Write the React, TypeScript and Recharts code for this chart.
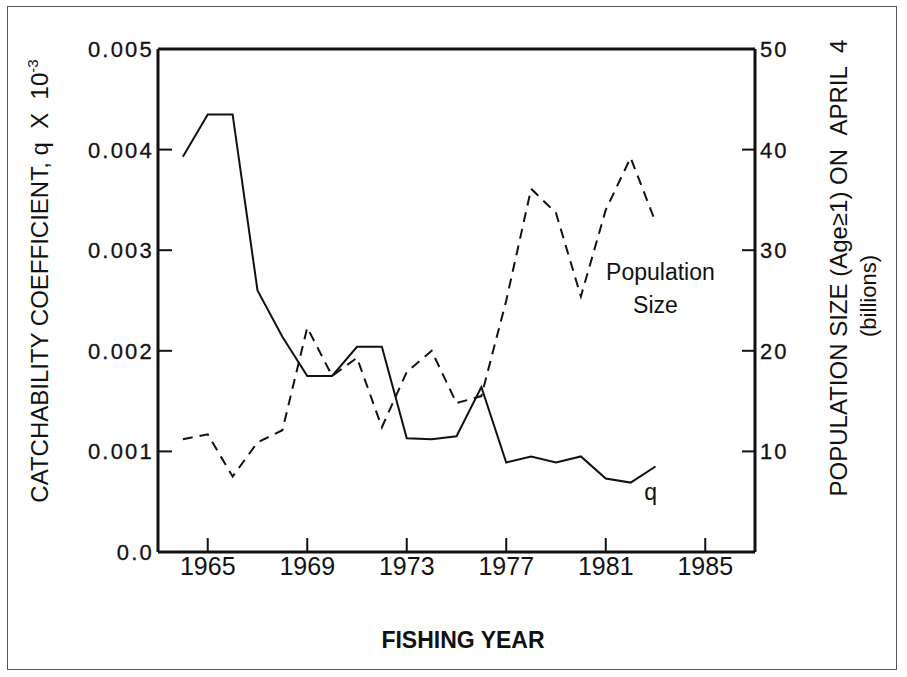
import React from 'react';
import { LineChart, Line, XAxis, YAxis, ReferenceDot, ReferenceLine, Label } from 'recharts';

const years = [1964, 1965, 1966, 1967, 1968, 1969, 1970, 1971, 1972, 1973, 1974, 1975, 1976, 1977, 1978, 1979, 1980, 1981, 1982, 1983];
const qValues = [0.00393, 0.00435, 0.00435, 0.0026, 0.00214, 0.00175, 0.00175, 0.00204, 0.00204, 0.00113, 0.00112, 0.00115, 0.00164, 0.00089, 0.00095, 0.00089, 0.00095, 0.00073, 0.00069, 0.00085];
const popValues = [11.2, 11.7, 7.5, 10.9, 12.1, 22.3, 17.5, 19.3, 12.4, 17.9, 20.0, 14.8, 15.5, 25.0, 36.1, 33.7, 25.4, 34.0, 39.2, 32.8];

const xTicks = [1965, 1969, 1973, 1977, 1981, 1985];
const qTicks = [0, 0.001, 0.002, 0.003, 0.004, 0.005];
const popTicks = [10, 20, 30, 40, 50];

const data = years.map((year, i) => ({ year, q: qValues[i], pop: popValues[i] }));

const FONT = '"Liberation Sans", Arial, Helvetica, sans-serif';
const INK = '#111';

const LeftTick = (props: any) => {
  const { x, y, payload } = props;
  const ax = x + 4;
  const v = payload.value;
  return (
    <g>
      <line x1={ax} x2={ax + 14} y1={y} y2={y} stroke={INK} strokeWidth={2} />
      <text x={x} y={y} dy={8} textAnchor="end" fontSize={22} letterSpacing={2.2} fontFamily={FONT} fill={INK} stroke={INK} strokeWidth={0.3}>
        {v === 0 ? '0.0' : v.toFixed(3)}
      </text>
    </g>
  );
};

const RightTick = (props: any) => {
  const { x, y, payload } = props;
  const ax = x - 5;
  return (
    <g>
      <line x1={ax} x2={ax - 13} y1={y} y2={y} stroke={INK} strokeWidth={2} />
      <text x={x} y={y} dy={8} textAnchor="start" fontSize={22} letterSpacing={2} fontFamily={FONT} fill={INK} stroke={INK} strokeWidth={0.3}>
        {payload.value}
      </text>
    </g>
  );
};

const BottomTick = (props: any) => {
  const { x, y, payload } = props;
  return (
    <g>
      <line x1={x} x2={x} y1={y} y2={y - 14} stroke={INK} strokeWidth={2} />
      <text x={x} y={y + 23} textAnchor="middle" fontSize={25} fontFamily={FONT} fill={INK}>
        {payload.value}
      </text>
    </g>
  );
};

const LeftTitle = () => (
  <text transform="translate(48,281) rotate(-90)" textAnchor="middle" fontSize={24} fontFamily={FONT} fill={INK}>
    CATCHABILITY COEFFICIENT, q{'\u00a0\u00a0'}X{'\u00a0\u00a0'}10
    <tspan dy={-10} fontSize={15}>-3</tspan>
  </text>
);

const RightTitle = () => (
  <g>
    <text transform="translate(847,268) rotate(-90)" textAnchor="middle" fontSize={24} fontFamily={FONT} fill={INK}>
      {'POPULATION SIZE (Age\u22651) ON\u00a0\u00a0APRIL\u00a0\u00a04'}
    </text>
    <text transform="translate(876,296) rotate(-90)" textAnchor="middle" fontSize={22} fontFamily={FONT} fill={INK}>
      (billions)
    </text>
  </g>
);

const BottomTitle = () => (
  <text x={463} y={648} textAnchor="middle" fontSize={23} fontWeight="bold" fontFamily={FONT} fill={INK}>
    FISHING YEAR
  </text>
);

const PopLabel = (props: any) => {
  const vb = props.viewBox || {};
  const x = vb.x ?? 0;
  const y = vb.y ?? 0;
  return (
    <text x={x} y={y} textAnchor="middle" fontSize={23} fontFamily={FONT} fill={INK}>
      <tspan x={x}>Population</tspan>
      <tspan x={x - 5} dy={33}>Size</tspan>
    </text>
  );
};

const QLabel = (props: any) => {
  const vb = props.viewBox || {};
  return (
    <text x={vb.x ?? 0} y={vb.y ?? 0} textAnchor="middle" fontSize={23} fontFamily={FONT} fill={INK}>
      q
    </text>
  );
};

export default function App() {
  return (
    <div style={{ position: 'absolute', left: 0, top: 0, width: 907, height: 677, background: '#fff' }}>
      <div
        style={{
          position: 'absolute',
          left: 7,
          top: 6,
          width: 890,
          height: 664,
          border: '1.5px solid #555',
          boxSizing: 'border-box',
          pointerEvents: 'none',
        }}
      />
      <LineChart
        width={907}
        height={677}
        data={data}
        margin={{ top: 49, right: 72, bottom: 85, left: 78 }}
        style={{ position: 'absolute', left: 0, top: 0 }}
      >
        <XAxis
          dataKey="year"
          type="number"
          domain={[1963, 1987]}
          ticks={xTicks}
          height={40}
          tickSize={0}
          tickMargin={0}
          tickLine={false}
          tick={<BottomTick />}
          axisLine={{ stroke: INK, strokeWidth: 3 }}
          interval={0}
        >
          <Label content={<BottomTitle />} />
        </XAxis>
        <YAxis
          yAxisId="left"
          orientation="left"
          type="number"
          domain={[0, 0.005]}
          ticks={qTicks}
          width={80}
          tickSize={0}
          tickMargin={4}
          tickLine={false}
          tick={<LeftTick />}
          axisLine={{ stroke: INK, strokeWidth: 3 }}
          interval={0}
        >
          <Label content={<LeftTitle />} />
        </YAxis>
        <YAxis
          yAxisId="right"
          orientation="right"
          type="number"
          domain={[0, 50]}
          ticks={popTicks}
          width={80}
          tickSize={0}
          tickMargin={5}
          tickLine={false}
          tick={<RightTick />}
          axisLine={{ stroke: INK, strokeWidth: 3 }}
          interval={0}
        >
          <Label content={<RightTitle />} />
        </YAxis>
        <ReferenceLine yAxisId="left" y={0.005} stroke={INK} strokeWidth={3} />
        <Line
          yAxisId="left"
          dataKey="q"
          type="linear"
          stroke={INK}
          strokeWidth={2}
          dot={false}
          isAnimationActive={false}
        />
        <Line
          yAxisId="right"
          dataKey="pop"
          type="linear"
          stroke={INK}
          strokeWidth={2}
          strokeDasharray="10 7"
          dot={false}
          isAnimationActive={false}
        />
        <ReferenceDot yAxisId="right" x={1983.2} y={27.0} r={0} fill="none" stroke="none" label={<PopLabel />} />
        <ReferenceDot yAxisId="left" x={1982.8} y={0.00052} r={0} fill="none" stroke="none" label={<QLabel />} />
      </LineChart>
    </div>
  );
}
